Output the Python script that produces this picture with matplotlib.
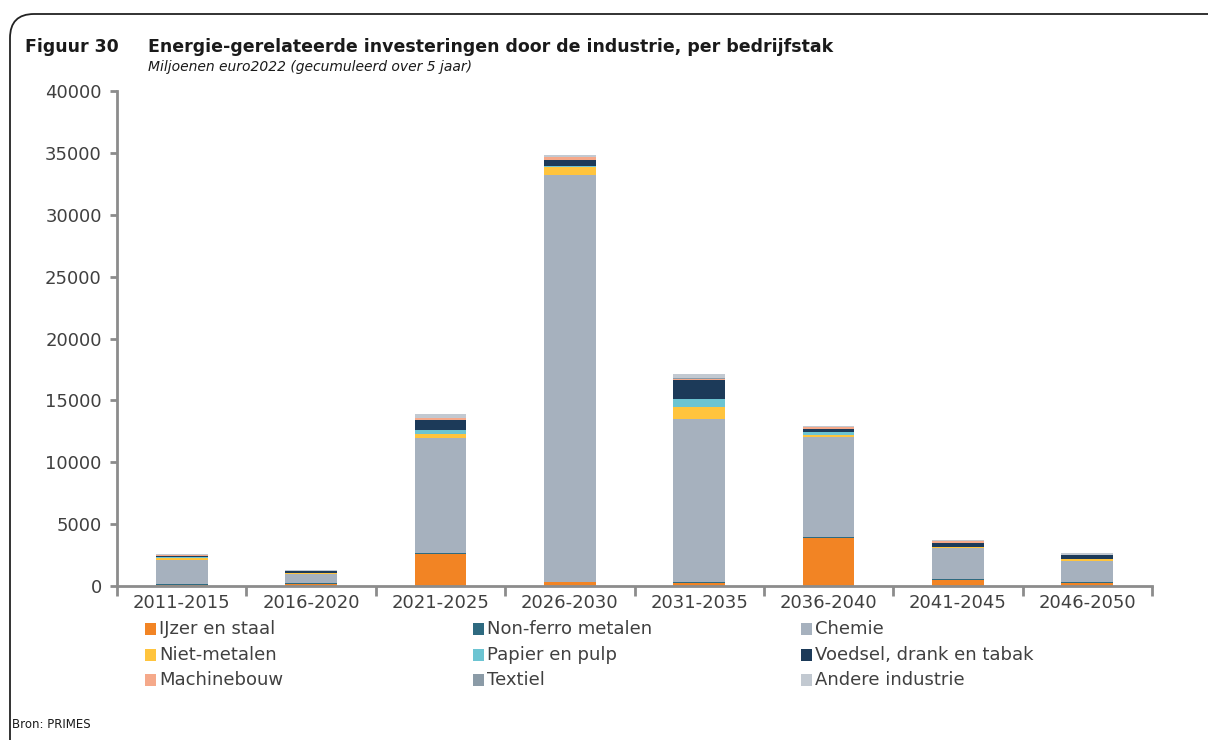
import numpy as np
import matplotlib
matplotlib.use("Agg")
import matplotlib.pyplot as plt
import matplotlib.patches as patches
import matplotlib.transforms as mtransforms

periods = ["2011-2015", "2016-2020", "2021-2025", "2026-2030", "2031-2035",
           "2036-2040", "2041-2045", "2046-2050"]

ijzer_staal = [100, 200, 2600, 300, 250, 3870, 460, 230]
non_ferro = [30, 20, 100, 50, 50, 130, 80, 80]
chemie = [1950, 750, 9250, 32850, 13220, 8040, 2570, 1710]
niet_metalen = [150, 80, 320, 650, 940, 140, 30, 130]
papier_pulp = [80, 40, 320, 100, 620, 270, 20, 30]
voedsel = [150, 130, 800, 500, 1530, 270, 320, 290]
machinebouw = [30, 20, 150, 200, 140, 130, 130, 40]
textiel = [10, 10, 20, 20, 20, 20, 10, 10]
andere = [60, 50, 300, 170, 350, 60, 120, 170]

series_names = ["IJzer en staal", "Non-ferro metalen", "Chemie", "Niet-metalen",
                "Papier en pulp", "Voedsel, drank en tabak", "Machinebouw",
                "Textiel", "Andere industrie"]
series_values = [ijzer_staal, non_ferro, chemie, niet_metalen, papier_pulp,
                 voedsel, machinebouw, textiel, andere]
colors = ["#F28424", "#2E6A80", "#A6B1BE", "#FFC43D", "#6CC4D2", "#1C3A59",
          "#F5A98A", "#8B9BA7", "#C2C9D1"]

fig = plt.figure(figsize=(12.08, 7.4), dpi=100)
ax = fig.add_axes([117 / 1208, 1 - 586 / 740, (1152 - 117) / 1208, (586 - 91) / 740])

x = np.arange(len(periods))
bottom = np.zeros(len(periods))
for name, vals, col in zip(series_names, series_values, colors):
    ax.bar(x, vals, 0.4, bottom=bottom, color=col, linewidth=0, label=name)
    bottom += np.array(vals)

ax.set_xlim(-0.5, len(periods) - 0.5)
ax.set_ylim(0, 40000)
ax.set_yticks(np.arange(0, 40001, 5000))
ax.set_xticks(x)
ax.set_xticklabels(periods)
ax.set_xticks(np.arange(-0.5, len(periods), 1.0), minor=True)

for side in ["top", "right"]:
    ax.spines[side].set_visible(False)
for side in ["left", "bottom"]:
    ax.spines[side].set_color("#8C8C8C")
    ax.spines[side].set_linewidth(2)

ax.tick_params(axis="y", direction="out", length=5, width=2, color="#8C8C8C",
               labelsize=13, labelcolor="#404040", pad=6)
ax.tick_params(axis="x", which="major", length=0, labelsize=13,
               labelcolor="#404040", pad=6)
ax.tick_params(axis="x", which="minor", direction="out", length=7, width=2,
               color="#8C8C8C")

# legenda, rij per rij
for i, (name, col) in enumerate(zip(series_names, colors)):
    row, c = divmod(i, 3)
    px = 145 + c * 328
    py = 629 + row * 25.5
    fig.patches.append(patches.Rectangle(
        (px / 1208, 1 - (py + 6) / 740), 11 / 1208, 12 / 740,
        transform=fig.transFigure, facecolor=col, edgecolor="none"))
    fig.text((px + 14) / 1208, 1 - py / 740, name, fontsize=13,
             color="#404040", va="center", ha="left")

# titels
fig.text(25 / 1208, 1 - 47 / 740, "Figuur 30", fontsize=12.5,
         fontweight="bold", va="center", color="#1A1A1A")
fig.text(148 / 1208, 1 - 47 / 740,
         "Energie-gerelateerde investeringen door de industrie, per bedrijfstak",
         fontsize=12.5, fontweight="bold", va="center", color="#1A1A1A")
fig.text(148 / 1208, 1 - 67 / 740,
         "Miljoenen euro2022 (gecumuleerd over 5 jaar)",
         fontsize=10, style="italic", va="center", color="#1A1A1A")
fig.text(12 / 1208, 1 - 724 / 740, "Bron: PRIMES", fontsize=8.5,
         va="center", color="#1A1A1A")

# kader met afgeronde hoek linksboven
frame = patches.FancyBboxPatch(
    (10, -100), 1400, 740 - 14 + 100,
    boxstyle="round,pad=0,rounding_size=24",
    transform=mtransforms.IdentityTransform(),
    facecolor="none", edgecolor="#222222", linewidth=1.3)
fig.patches.append(frame)

fig.savefig("out.png", dpi=100)
